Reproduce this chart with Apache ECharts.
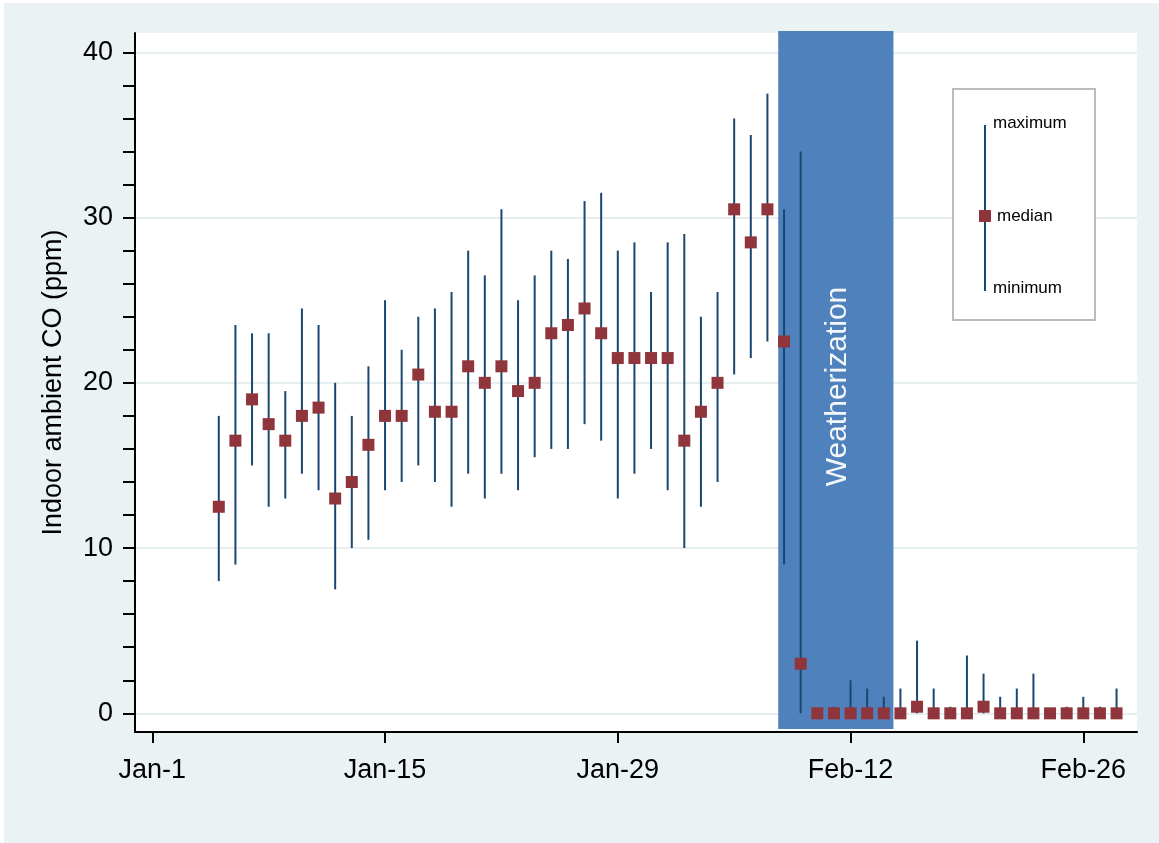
<!DOCTYPE html>
<html>
<head>
<meta charset="utf-8">
<script src="https://cdn.jsdelivr.net/npm/echarts@6/dist/echarts.min.js"></script>
<style>
  html, body { margin: 0; padding: 0; background: #ffffff; }
  #chart { position: absolute; left: 4px; top: 3px; width: 1155px; height: 840px; }
</style>
</head>
<body>
<div id="chart"></div>
<script>
// Day index: 0 = Jan-1
const days = [4,5,6,7,8,9,10,11,12,13,14,15,16,17,18,19,20,21,22,23,24,25,26,27,28,29,30,31,32,33,34,35,36,37,38,39,40,41,42,43,44,45,46,47,48,49,50,51,52,53,54,55,56,57,58];
const maxVals = [18,23.5,23,23,19.5,24.5,23.5,20,18,21,25,22,24,24.5,25.5,28,26.5,30.5,25,26.5,28,27.5,31,31.5,28,28.5,25.5,28.5,29,24,25.5,36,35,37.5,30.5,34,0,0.4,2,1.5,1,1.5,4.4,1.5,0.4,3.5,2.4,1,1.5,2.4,0,0.4,1,0.4,1.5];
const medianVals = [12.5,16.5,19,17.5,16.5,18,18.5,13,14,16.25,18,18,20.5,18.25,18.25,21,20,21,19.5,20,23,23.5,24.5,23,21.5,21.5,21.5,21.5,16.5,18.25,20,30.5,28.5,30.5,22.5,3,0,0,0,0,0,0,0.4,0,0,0,0.4,0,0,0,0,0,0,0,0];
const minVals = [8,9,15,12.5,13,14.5,13.5,7.5,10,10.5,13.5,14,15,14,12.5,14.5,13,14.5,13.5,15.5,16,16,17.5,16.5,13,14.5,16,13.5,10,12.5,14,20.5,21.5,22.5,9,0,0,0,0,0,0,0,0,0,0,0,0,0,0,0,0,0,0,0,0];
const weatherization = [37.65, 44.58];
const weatherizationLabel = 'Weatherization';
const xTickValues = [0, 14, 28, 42, 56];
const xTickLabels = ['Jan-1', 'Jan-15', 'Jan-29', 'Feb-12', 'Feb-26'];
const yLabelValues = [0, 10, 20, 30, 40];
const yTickValues = [0,2,4,6,8,10,12,14,16,18,20,22,24,26,28,30,32,34,36,38,40];
const yTitle = 'Indoor ambient CO (ppm)';
const legendLabels = ['maximum', 'median', 'minimum'];

const FONT = "'Liberation Sans', Arial, sans-serif";
const NAVY = '#1a476f';
const CRAN = '#90353b';

const whiskerData = days.map((d, i) => [d, minVals[i], maxVals[i]]);
const medianData = days.map((d, i) => [d, medianVals[i]]);

const chart = echarts.init(document.getElementById('chart'), null, { renderer: 'canvas' });

const option = {
  backgroundColor: '#EAF2F3',
  animation: false,
  grid: {
    left: 131, top: 30, width: 1002, height: 699,
    show: true, backgroundColor: '#ffffff', borderWidth: 0
  },
  xAxis: {
    type: 'value', min: -1.04, max: 59.23,
    axisLine: { show: true, onZero: false, lineStyle: { color: '#000', width: 2 } },
    axisTick: { show: true, customValues: xTickValues, length: 11, lineStyle: { color: '#000', width: 2 } },
    axisLabel: {
      customValues: xTickValues, margin: 25,
      formatter: v => xTickLabels[xTickValues.indexOf(v)],
      fontFamily: FONT, fontSize: 27, color: '#000'
    },
    splitLine: { show: false }
  },
  yAxis: [{
    type: 'value', min: -1.13, max: 41.17,
    name: yTitle, nameLocation: 'middle', nameGap: 68, nameRotate: 90,
    nameTextStyle: { fontFamily: FONT, fontSize: 27, color: '#000' },
    axisLine: { show: true, onZero: false, lineStyle: { color: '#000', width: 2 } },
    axisTick: { show: true, customValues: yTickValues, length: 12, lineStyle: { color: '#000', width: 2 } },
    axisLabel: { customValues: yLabelValues, margin: 22, fontFamily: FONT, fontSize: 27, color: '#000' },
    splitLine: { show: false }
  }, {
    type: 'value', min: -1.13, max: 41.17, position: 'left',
    axisLine: { show: false }, axisLabel: { show: false },
    axisTick: { show: false, customValues: yLabelValues },
    splitLine: { show: true, lineStyle: { color: '#E6EEF0', width: 2 } }
  }],
  series: [
    {
      type: 'custom', z: 1, clip: false, silent: true,
      data: [weatherization],
      renderItem: function (params, api) {
        const cs = params.coordSys;
        const p0 = api.coord([weatherization[0], 0]);
        const p1 = api.coord([weatherization[1], 0]);
        const x0 = p0[0], x1 = p1[0];
        return {
          type: 'group',
          children: [
            { type: 'rect', shape: { x: x0, y: cs.y - 2, width: x1 - x0, height: cs.height - 1 },
              style: { fill: '#4F81BD' } },
            { type: 'text', x: (x0 + x1) / 2 + 2, y: cs.y + cs.height / 2 + 4, rotation: Math.PI / 2,
              style: { text: weatherizationLabel, fill: '#F4F7FA', font: '30px ' + FONT,
                       align: 'center', verticalAlign: 'middle' } }
          ]
        };
      }
    },
    {
      type: 'custom', z: 2, silent: true,
      data: whiskerData,
      encode: { x: 0, y: [1, 2] },
      renderItem: function (params, api) {
        const lo = api.coord([api.value(0), api.value(1)]);
        const hi = api.coord([api.value(0), api.value(2)]);
        return { type: 'line', shape: { x1: lo[0], y1: lo[1], x2: hi[0], y2: hi[1] },
                 style: { stroke: NAVY, lineWidth: 2 } };
      }
    },
    {
      type: 'scatter', z: 3, silent: true,
      symbol: 'rect', symbolSize: 12,
      itemStyle: { color: CRAN, opacity: 1 },
      data: medianData
    }
  ],
  graphic: [
    { type: 'rect', shape: { x: 949, y: 86, width: 142, height: 231 },
      style: { fill: '#ffffff', stroke: '#BBBBBB', lineWidth: 2 }, z: 10 },
    { type: 'line', shape: { x1: 981, y1: 122, x2: 981, y2: 288 },
      style: { stroke: NAVY, lineWidth: 2 }, z: 11 },
    { type: 'rect', shape: { x: 975, y: 207, width: 12, height: 12 },
      style: { fill: CRAN }, z: 12 },
    { type: 'text', x: 989, y: 120, z: 12,
      style: { text: legendLabels[0], font: '17px ' + FONT, fill: '#000', verticalAlign: 'middle' } },
    { type: 'text', x: 993, y: 213, z: 12,
      style: { text: legendLabels[1], font: '17px ' + FONT, fill: '#000', verticalAlign: 'middle' } },
    { type: 'text', x: 989, y: 285, z: 12,
      style: { text: legendLabels[2], font: '17px ' + FONT, fill: '#000', verticalAlign: 'middle' } }
  ]
};
chart.setOption(option);
</script>
</body>
</html>
